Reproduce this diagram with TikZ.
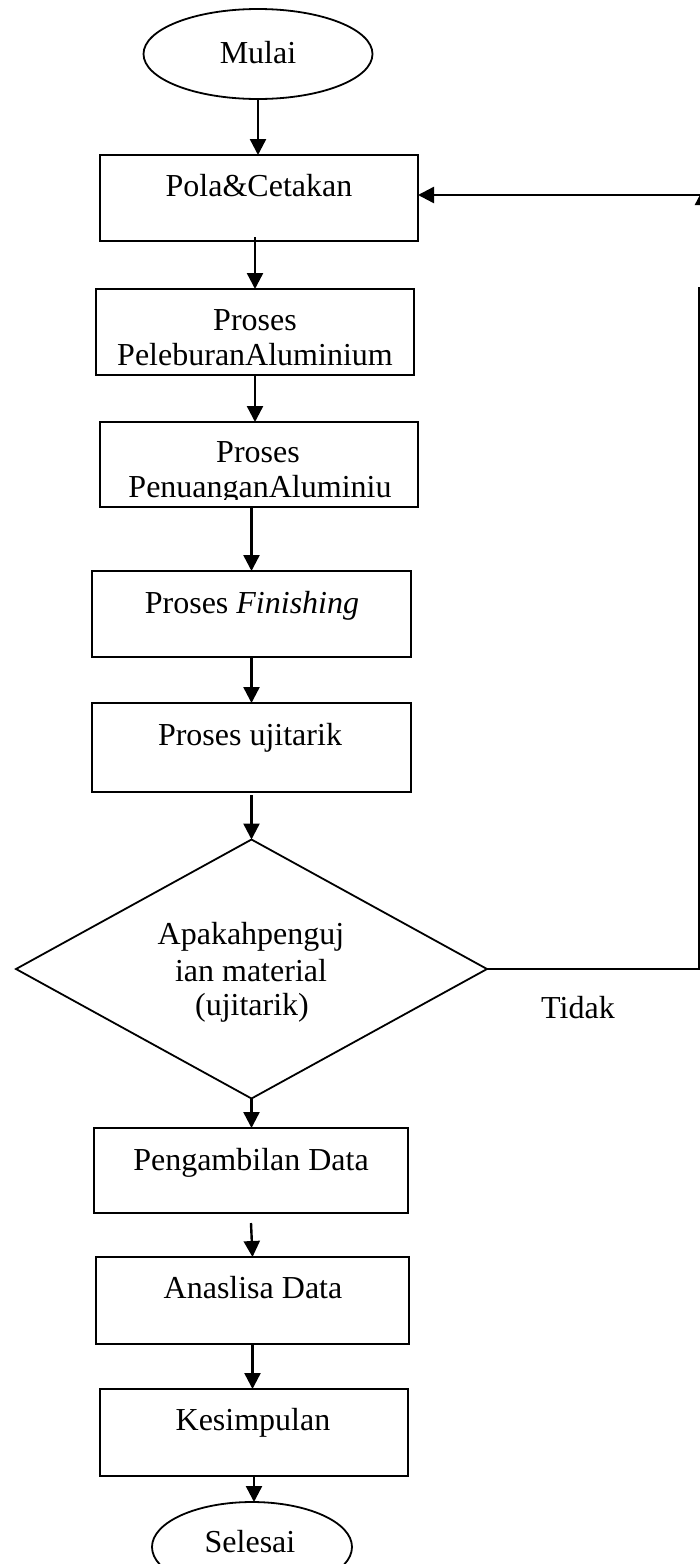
\documentclass[tikz,border=0pt]{standalone}
\usepackage{fontspec}
\setmainfont{Liberation Serif}
\usetikzlibrary{arrows.meta,shapes.geometric}
\begin{document}
\begin{tikzpicture}[x=0.5pt,y=-0.5pt,
  box/.style={draw,line width=0.9pt,inner sep=0,outer sep=0,rectangle},
  oval/.style={draw,line width=0.9pt,inner sep=0,outer sep=0,ellipse},
  txt/.style={anchor=base,inner sep=0,outer sep=0,font=\fontsize{16}{18}\selectfont},
  arr/.style={line width=1.2pt,-{Triangle[length=8pt,width=8pt]}},
  ln/.style={line width=1.2pt}]
\useasboundingbox (0,0) rectangle (700,1564);
\clip (0,0) rectangle (700,1564);
% shapes
\node[oval,minimum width=114.5pt,minimum height=45pt] (mulai) at (258,54) {};
\node[box,minimum width=159pt,minimum height=43pt] (pola) at (259,198) {};
\node[box,minimum width=159pt,minimum height=43pt] (peleb) at (255,332) {};
\node[box,minimum width=159pt,minimum height=42.5pt] (penu) at (259,464.5) {};
\node[box,minimum width=159.5pt,minimum height=43pt] (fin) at (251.5,614) {};
\node[box,minimum width=159.5pt,minimum height=44.5pt] (uji) at (251.5,747.5) {};
\node[draw,line width=0.9pt,diamond,inner sep=0,outer sep=0,minimum width=235.5pt,minimum height=129.5pt] (dia) at (251.5,969) {};
\node[box,minimum width=157pt,minimum height=42.5pt] (peng) at (251,1170.5) {};
\node[box,minimum width=156.5pt,minimum height=43.5pt] (ana) at (252.5,1300.5) {};
\node[box,minimum width=154pt,minimum height=43.5pt] (kes) at (254,1432.5) {};
\node[oval,minimum width=100pt,minimum height=45pt] (sel) at (252,1547) {};
% texts
\node[txt] (tMulai) at (258,63) {Mulai};
\node[txt] (tPola) at (259,196) {Pola\&Cetakan};
\node[txt] (tPel1) at (255,330) {Proses};
\node[txt] (tPel2) at (255,365) {PeleburanAluminium};
\node[txt] (tPen1) at (258,462) {Proses};
\begin{scope}
\clip (100,422) rectangle (418,499.5);
\node[txt] (tPen2) at (260,497) {PenuanganAluminiu};
\end{scope}
\node[txt] (tFin) at (252,613) {Proses \textit{Finishing}};
\node[txt] (tUji) at (250,745) {Proses ujitarik};
\node[txt] (tDia1) at (251,944) {Apakahpenguj};
\node[txt] (tDia2) at (251,981) {ian material};
\node[txt] (tDia3) at (252,1015) {(ujitarik)};
\node[txt] (tTidak) at (578,1018) {Tidak};
\node[txt] (tPeng) at (251,1170) {Pengambilan Data};
\node[txt] (tAna) at (253,1298) {Anaslisa Data};
\node[txt] (tKes) at (253,1430) {Kesimpulan};
\node[txt] (tSel) at (250,1552) {Selesai};
% connectors
\draw[arr] (mulai.south) -- (mulai.south |- pola.north);
\draw[arr] ([yshift=2pt]pola.south -| peleb.north) -- (peleb.north);
\draw[arr] (peleb.south) -- (peleb.south |- penu.north);
\draw[arr] (fin.north |- penu.south) -- (fin.north);
\draw[arr] (fin.south) -- (uji.north);
\draw[arr] ([yshift=-1.5pt]uji.south) -- (dia.north);
\draw[arr] (dia.south) -- (dia.south |- peng.north);
\draw[arr] ([yshift=-5pt]peng.south) -- (ana.north);
\draw[arr] (ana.south) -- (ana.south |- kes.north);
\draw[arr] (kes.south) -- (kes.south |- sel.north);
% feedback
\coordinate (fbA) at (699,970);
\coordinate (fbB) at (699,287);
\coordinate (fbC) at (705,195);
\coordinate (fbD) at (703,205);
\coordinate (fbE) at (703,189);
\draw[ln] (dia.east) -- (dia.east -| fbA) -- (fbB);
\draw[arr] (fbC) -- (fbC -| pola.east);
\draw[arr] (fbD) -- (fbE);
\end{tikzpicture}
\end{document}
